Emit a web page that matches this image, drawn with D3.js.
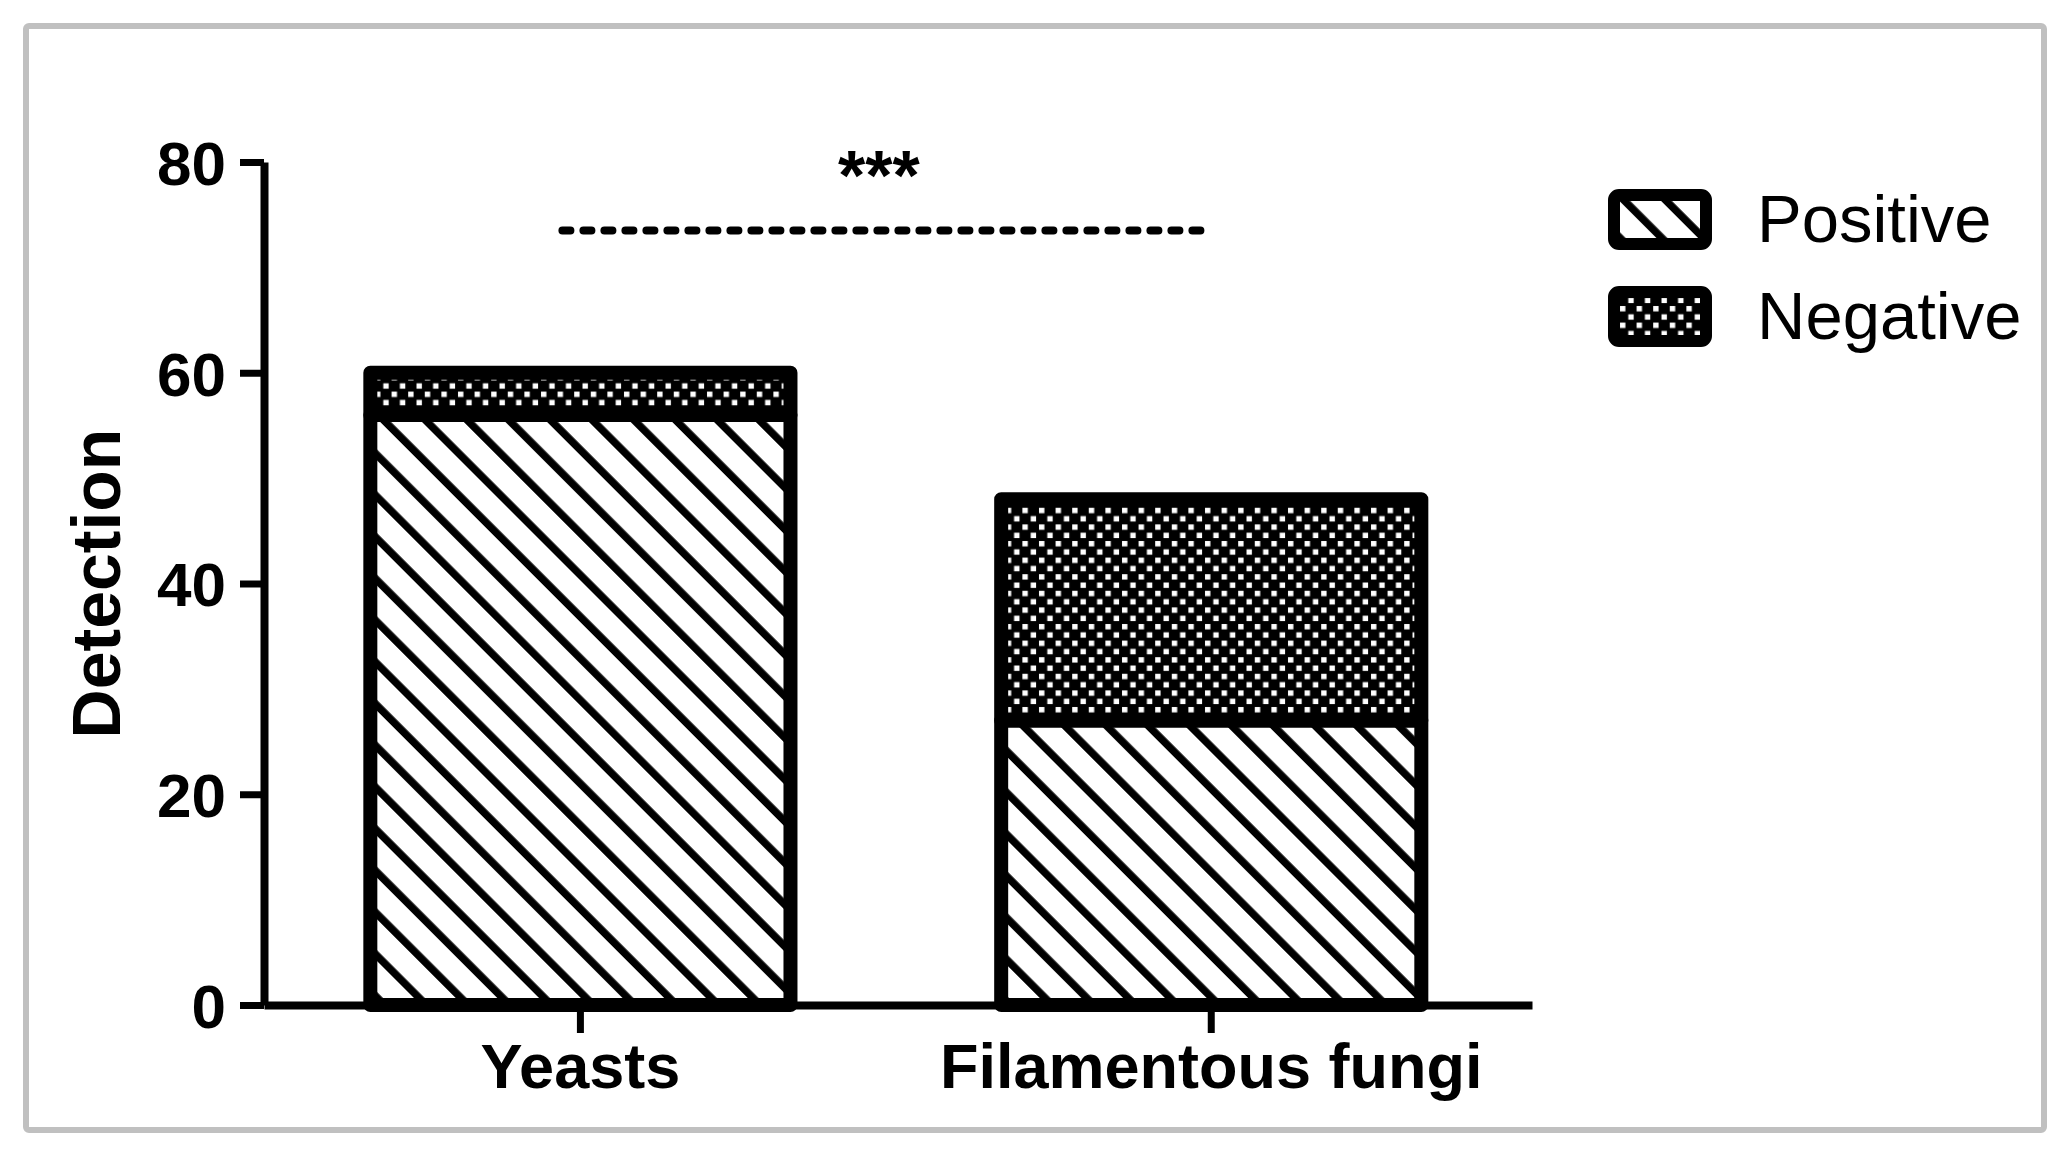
<!DOCTYPE html>
<html>
<head>
<meta charset="utf-8">
<script src="https://cdn.jsdelivr.net/npm/d3@7"></script>
<style>
  body { margin: 0; background: #fff; }
</style>
</head>
<body>
<div id="chart"></div>
<script>
// data
var categories = ["Yeasts", "Filamentous fungi"];
var positive = [56, 27];
var negative = [4, 21];
var seriesNames = ["Positive", "Negative"];
var yTicks = [0, 20, 40, 60, 80];
var sigLabel = "***";
var sigLineLevel = 73.5;
var sigTextLevel = 76.4;

var width = 2072,
	height = 1157;

var svg = d3.select("#chart").append("svg")
	.attr("width", width)
	.attr("height", height)
	.style("background-color", "white")
	.style("font-family", "Arial, 'Liberation Sans', sans-serif");

/****************************** patterns ******************************/
var defs = svg.append("defs");

var hatch = defs.append("pattern")
	.attr("id", "hatch")
	.attr("patternUnits", "userSpaceOnUse")
	.attr("width", 29.5)
	.attr("height", 29.5)
	.attr("patternTransform", "rotate(-45)");
hatch.append("rect").attr("width", 29.5).attr("height", 29.5).attr("fill", "white");
hatch.append("rect").attr("x", 0).attr("width", 7.6).attr("height", 29.5).attr("fill", "black");

var checker = defs.append("pattern")
	.attr("id", "checker")
	.attr("patternUnits", "userSpaceOnUse")
	.attr("width", 16.6)
	.attr("height", 16.6);
checker.append("rect").attr("width", 16.6).attr("height", 16.6).attr("fill", "black");
checker.append("rect").attr("x", 1.5).attr("y", 1.5).attr("width", 5.4).attr("height", 5.4).attr("fill", "white");
checker.append("rect").attr("x", 9.8).attr("y", 9.8).attr("width", 5.4).attr("height", 5.4).attr("fill", "white");

var fills = { Positive: "url(#hatch)", Negative: "url(#checker)" };

// grey frame round the figure
svg.append("rect")
	.attr("x", 26).attr("y", 26)
	.attr("width", 2018).attr("height", 1104)
	.attr("rx", 3)
	.attr("fill", "none")
	.attr("stroke", "#c0c0c0")
	.attr("stroke-width", 6);

/****************************** scales ******************************/
var x = d3.scaleBand()
	.domain(categories)
	.range([264, 1532])
	.paddingInner(0.334)
	.paddingOuter(0.172)
	.align(0.49);

var y = d3.scaleLinear()
	.domain([0, 80])
	.range([1005, 162]);

var rows = categories.map(function(c, i) {
	return { cat: c, Positive: positive[i], Negative: negative[i] };
});
var stacked = d3.stack().keys(seriesNames)(rows);

/****************************** bars ******************************/
var layer = svg.selectAll(".layer")
	.data(stacked)
	.enter().append("g")
	.attr("class", "layer");

layer.selectAll("rect")
	.data(function(d) { return d.map(function(p) { p.key = d.key; return p; }); })
	.enter().append("rect")
	.attr("x", function(d) { return x(d.data.cat); })
	.attr("width", x.bandwidth())
	.attr("y", function(d) { return y(d[1]); })
	.attr("height", function(d) { return y(d[0]) - y(d[1]); })
	.attr("fill", function(d) { return fills[d.key]; })
	.attr("stroke", "black")
	.attr("stroke-width", 14)
	.attr("stroke-linejoin", "round");

/****************************** axes ******************************/
var yAxis = svg.append("g")
	.attr("transform", "translate(" + x.range()[0] + ",0)")
	.call(d3.axisLeft(y).tickValues(yTicks).tickSize(24).tickSizeOuter(0).tickPadding(14));

var xAxis = svg.append("g")
	.attr("transform", "translate(0," + y(0) + ")")
	.call(d3.axisBottom(x).tickSize(28).tickSizeOuter(0).tickPadding(10));

[yAxis, xAxis].forEach(function(a) {
	a.select(".domain").attr("stroke", "black").attr("stroke-width", 8);
	a.selectAll(".tick line").attr("stroke", "black").attr("stroke-width", 7);
	a.selectAll(".tick text")
		.attr("fill", "black")
		.style("font-family", "Arial, 'Liberation Sans', sans-serif")
		.style("font-weight", "bold");
});
yAxis.selectAll(".tick text").style("font-size", "62px").attr("dy", "0.36em");
xAxis.selectAll(".tick text").style("font-size", "63px").attr("dy", "0.71em");

svg.append("text")
	.attr("transform", "translate(120," + y(40) + ") rotate(-90)")
	.attr("text-anchor", "middle")
	.style("font-size", "68px")
	.style("font-weight", "bold")
	.text("Detection");

/****************************** significance ******************************/
var c0 = x(categories[0]) + x.bandwidth() / 2,
	c1 = x(categories[1]) + x.bandwidth() / 2;

svg.append("line")
	.attr("x1", c0 - 18).attr("x2", c1 - 7)
	.attr("y1", y(sigLineLevel)).attr("y2", y(sigLineLevel))
	.attr("stroke", "black")
	.attr("stroke-width", 8)
	.attr("stroke-linecap", "round")
	.attr("stroke-dasharray", "8,13");

svg.append("text")
	.attr("x", (c0 + c1) / 2 - 17)
	.attr("y", y(sigTextLevel))
	.attr("text-anchor", "middle")
	.style("font-size", "70px")
	.style("font-weight", "bold")
	.text(sigLabel);

/****************************** legend ******************************/
var legend = svg.selectAll(".legend")
	.data(seriesNames)
	.enter().append("g")
	.attr("class", "legend")
	.attr("transform", function(d, i) { return "translate(0," + (i * 97) + ")"; });

legend.append("rect")
	.attr("x", 1614).attr("y", 195)
	.attr("width", 92).attr("height", 49)
	.attr("rx", 5)
	.attr("fill", function(d) { return fills[d]; })
	.attr("stroke", "black")
	.attr("stroke-width", 12);

legend.append("text")
	.attr("x", 1757).attr("y", 242)
	.style("font-size", "67px")
	.text(function(d) { return d; });
</script>
</body>
</html>
